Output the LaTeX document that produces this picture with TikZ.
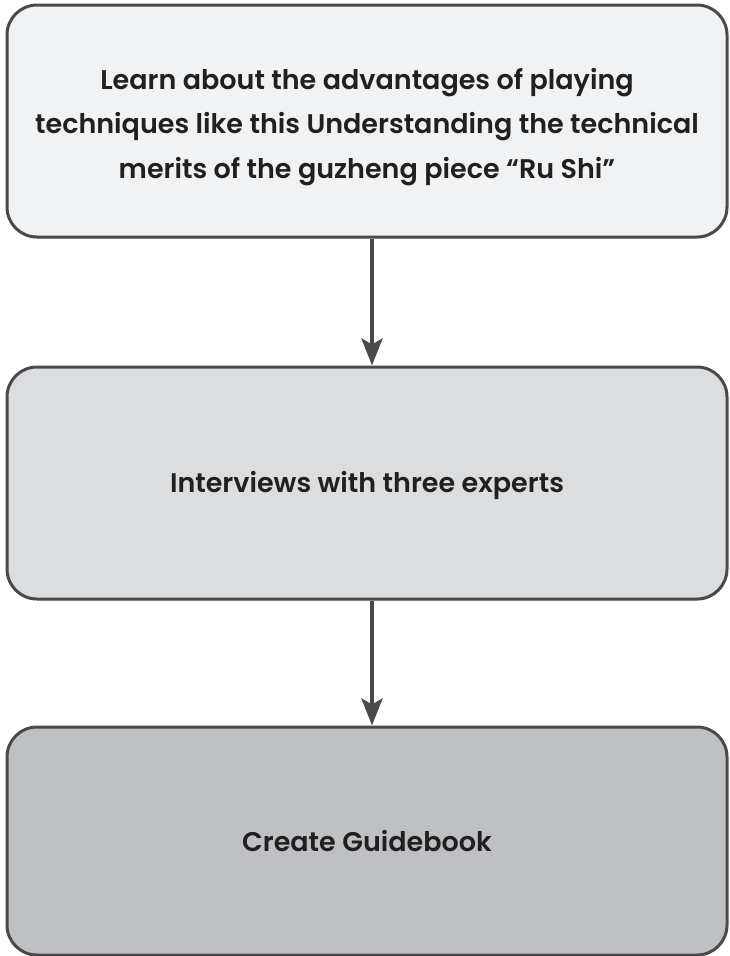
\documentclass[tikz,border=0pt]{standalone}
\usepackage{fontspec}
\setmainfont{Poppins}[UprightFont=* SemiBold]
\usetikzlibrary{arrows.meta,shadows}
\definecolor{edge}{HTML}{4A4A4C}
\definecolor{fillA}{HTML}{F1F2F4}
\definecolor{fillB}{HTML}{DCDDDF}
\definecolor{fillC}{HTML}{BFC0C3}
\definecolor{ink}{HTML}{231F20}
\tikzset{
  stepbox/.style={draw=edge, line width=3pt, rounded corners=30pt,
    minimum width=720pt, minimum height=232pt, inner sep=0pt,
    drop shadow={opacity=0.12, shadow xshift=0pt, shadow yshift=-2pt}},
  steptext/.style={align=center, text=ink, inner sep=0pt,
    font=\fontsize{27}{44.5}\selectfont},
  flow/.style={draw=edge, line width=4pt, -{Stealth[length=27pt,width=21pt,inset=6pt]}}
}
\begin{document}
\begin{tikzpicture}[x=1pt,y=-1pt]
\useasboundingbox (0,0) rectangle (729,956);
\node[stepbox, fill=fillA] (a) at (367,121) {};
\node[stepbox, fill=fillB] (b) at (367,483) {};
\node[stepbox, fill=fillC, minimum height=228pt] (c) at (367,841) {};
\node[steptext] (at) at ([yshift=-6pt]a.center) {Learn about the advantages of playing\\techniques like this Understanding the technical\\merits of the guzheng piece “Ru Shi”};
\node[steptext] (bt) at ([yshift=-2pt]b.center) {Interviews with three experts};
\node[steptext] (ct) at (c.center) {Create Guidebook};
\draw[flow] (a.south -| 372,0) -- (b.north -| 372,0);
\draw[flow] (b.south -| 372,0) -- (c.north -| 372,0);
\end{tikzpicture}
\end{document}
